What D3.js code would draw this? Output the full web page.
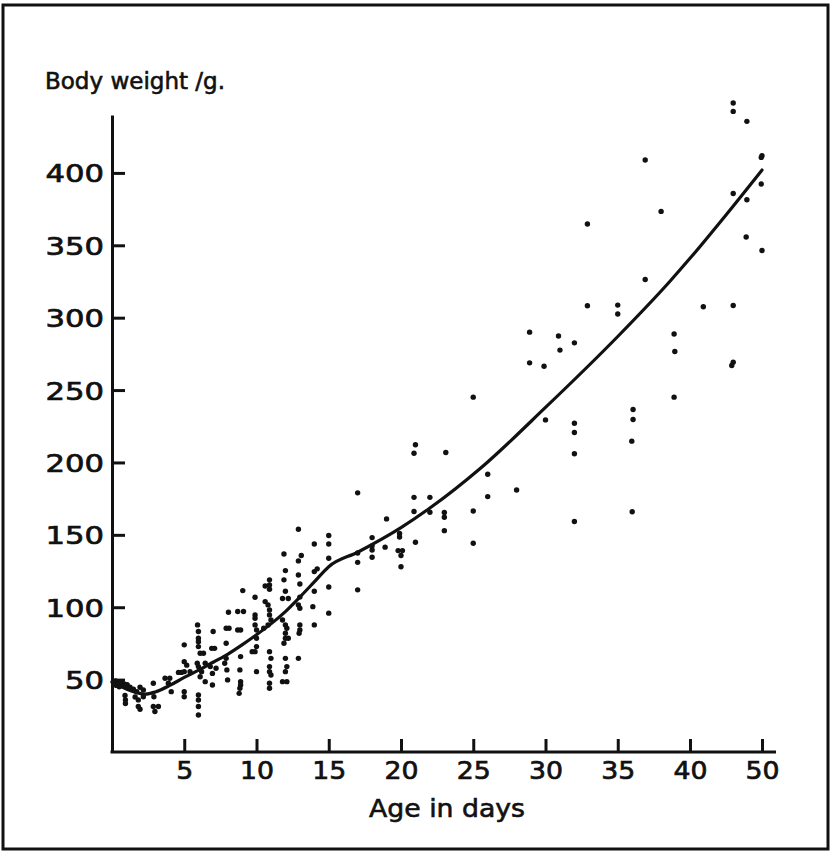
<!DOCTYPE html>
<html>
<head>
<meta charset="utf-8">
<script src="https://cdn.jsdelivr.net/npm/d3@7"></script>
<style>
  html, body { margin: 0; padding: 0; background: #fff; }
  svg { display: block; }
</style>
</head>
<body>
<script>
// Individual body weights (g) against age (days)
const observations = [
  [0.1,48],[0.25,49],[0.35,47],[0.45,48.5],[0.55,46.5],[0.65,48],[0.75,46],[0.85,47],[0.95,45],
  [0.5,45],[1.05,46.5],[0.3,46],[0.9,39],[0.93,36],[0.93,33.5],[1.25,44.7],[1.48,43.3],[1.71,41.7],
  [1.94,44.7],[1.82,36],[1.82,31.4],[1.94,29.5],[2.17,42.8],[2.17,38.2],[1.6,38],
  [2.86,47.5],[2.9,38.2],[2.86,31.4],[3.21,31.4],[2.97,28],
  [3.67,50.9],[4.0,50.9],[3.9,47.5],[4.1,41.7],
  [5.0,74],[5.0,62.4],[5.17,60],[5.0,55.5],[5.4,55.5],[4.6,55],[4.8,55],[5.0,41.7],[5.0,38.2],
  [5.92,87.8],[5.98,83.2],[5.98,78.6],[5.98,76.2],[5.98,72.8],[6.1,68.2],[5.9,61.3],[5.98,59],
  [6.2,55.5],[6.1,52],[5.98,39.4],[5.98,35.9],[5.98,31.4],[5.98,25.6],
  [6.33,68.2],[6.45,61.3],[6.45,48.6],[6.8,59],[6.9,71.6],[7.1,71.6],[7.0,83.2],[6.95,54.3],
  [7.2,57.8],[6.95,46.3],
  [7.9,85.5],[8.1,85.5],[7.9,75.1],[7.9,64.7],[7.95,56.7],[8.0,49.8],[7.8,61.3],[8.06,96.5],
  [8.7,97],[9.1,97],[8.7,84.3],[8.9,84.3],[8.9,65.9],[8.85,56.7],[8.9,48.6],[8.9,46.3],[8.85,44],
  [8.8,40.5],[9.05,111.5],
  [9.9,94.7],[9.9,92.4],[9.9,87.8],[10,84.3],[10,78.6],[10,72.8],[9.9,69.3],[9.7,69.3],[10,55.5],
  [9.9,106.9],
  [10.6,103.9],[10.8,101.6],[10.9,98.1],[10.9,94.7],[11.0,91.2],[10.8,87.8],[10.5,85.5],[10.9,69.3],
  [11.0,64.7],[10.9,59],[10.9,55.5],[10.9,47.5],[10.9,44],[11.0,53.2],[10.9,118.9],[10.9,115.4],
  [10.6,114.7],[10.9,112.4],
  [11.8,91.2],[12.0,87.8],[12.1,85.5],[12.0,82],[12.0,78.6],[12.2,78.6],[11.9,75.1],[12.0,64.7],
  [12.1,59],[12.0,55.5],[11.8,48.6],[12.1,48.6],[11.9,136.8],[12,125.3],[11.9,118.9],[12,111],
  [11.8,106],[12.2,106],
  [12.9,101.6],[13,99.3],[13,87.8],[13,84.3],[12.95,82],[12.9,64.7],[12.9,153.9],[13.1,135.7],
  [12.9,132],[12.9,122.3],[13,116],[13,107],
  [13.9,100.4],[14,87.8],[14,143.7],[14,124.6],[14.2,126.5],[14,111],
  [15,95.9],[15,149.5],[15,143.7],[15,133.8],[15,114],
  [17,179],[17,137.5],[17,131],[17,112],
  [18,148.1],[18,142.4],[18,139.5],[18,134.5],
  [19,161],[18.9,141.5],
  [19.9,151],[19.9,148.5],[19.8,139.1],[20.1,139.1],[20,135.7],[20,128],
  [21,212.2],[20.9,206.4],[20.9,175.9],[20.9,166.1],[21,144.9],
  [22,175.9],[22,165.6],
  [23.1,206.9],[23,165.4],[23,162.2],[23,152.9],
  [25,245.1],[25,166.5],[25,144.2],
  [26,191.9],[26,176.4],
  [28,181],
  [28.9,290],[28.9,268.8],
  [29.9,266.5],[30,229.4],
  [30.9,287.3],[31,277.6],
  [32,282.6],[32,227.1],[32,220.7],[32,206],[32,159.2],
  [32.9,364.7],[32.9,308.2],
  [35,308.7],[35,302.5],
  [36.06,236.6],[36.06,229.7],[35.97,214.7],[36,166],
  [36.9,408.9],[36.9,326.4],
  [38,373.4],
  [38.9,288.7],[38.95,276.6],[38.9,245.1],
  [41.85,307.5],
  [46,448.3],[46,442.5],[46,385.8],[46,308.4],[46,269.3],[45.8,267],
  [47.9,435.6],[47.9,381.5],[47.8,355.7],
  [50,411.9],[49.9,410.7],[49.9,392.3],[50,346.4]
];

// Fitted growth curve
const curveAge    = [0, 1, 2.3, 3, 4, 5, 6, 7, 8, 9, 10, 11, 12, 13, 14, 15, 17, 20, 22, 25.5, 30, 35, 38.6, 40, 45, 50];
const curveWeight = [48.5, 43.5, 40, 41.5, 46, 51.5, 56.5, 62, 67.5, 74, 81, 88.5, 97, 107, 117.5, 128, 138, 155, 168.5, 196, 238, 287, 325, 341, 371, 402];

// Axis ticks
const xTickValues = [5, 10, 15, 20, 25, 30, 35, 40, 50];
const yTickValues = [50, 100, 150, 200, 250, 300, 350, 400];

const width = 831, height = 853;
const FONT = "'DejaVu Sans', 'Liberation Sans', sans-serif";
const INK = "#111";

const svg = d3.select("body").append("svg")
  .attr("width", width)
  .attr("height", height);

svg.append("rect").attr("width", width).attr("height", height).attr("fill", "#fff");

// outer frame
svg.append("rect")
  .attr("x", 3).attr("y", 5)
  .attr("width", 825).attr("height", 844)
  .attr("fill", "none").attr("stroke", INK).attr("stroke-width", 3);

// The age axis is compressed beyond 40 days
const x = d3.scaleLinear().domain([0, 40, 50]).range([112, 690, 762]);
const y = d3.scaleLinear().domain([0, 440]).range([752, 115]);

// slightly heavier lettering
function ink(sel, w) {
  sel.attr("fill", INK).attr("stroke", INK).attr("stroke-width", w).attr("paint-order", "stroke");
}

// y axis
const yAxis = svg.append("g")
  .attr("transform", `translate(${x(0)},0)`)
  .call(d3.axisLeft(y).tickValues(yTickValues).tickSizeInner(-13).tickSizeOuter(0).tickPadding(8));
yAxis.select(".domain").attr("stroke", INK).attr("stroke-width", 3);
yAxis.selectAll(".tick line").attr("stroke", INK).attr("stroke-width", 3);
yAxis.selectAll(".tick text")
  .attr("font-family", FONT).attr("font-size", 25)
  .attr("dy", "0.36em")
  .attr("textLength", d => String(d).length * 19.5)
  .attr("lengthAdjust", "spacingAndGlyphs")
  .call(ink, 0.7);

// x axis
const xAxis = svg.append("g")
  .attr("transform", `translate(0,${y(0)})`)
  .call(d3.axisBottom(x).tickValues(xTickValues).tickSizeInner(-13).tickSizeOuter(0).tickPadding(9));
xAxis.select(".domain").remove();
xAxis.selectAll(".tick line").attr("stroke", INK).attr("stroke-width", 3);
xAxis.selectAll(".tick text")
  .attr("font-family", FONT).attr("font-size", 25)
  .attr("textLength", d => String(d).length * 17)
  .attr("lengthAdjust", "spacingAndGlyphs")
  .call(ink, 0.7);
xAxis.append("line")
  .attr("x1", x(0) - 1.5).attr("x2", 776)
  .attr("y1", 0).attr("y2", 0)
  .attr("stroke", INK).attr("stroke-width", 3);

// axis titles
svg.append("text")
  .attr("x", 45).attr("y", 89)
  .attr("font-family", FONT).attr("font-size", 23)
  .attr("textLength", 180).attr("lengthAdjust", "spacingAndGlyphs")
  .text("Body weight /g.")
  .call(ink, 0.6);

svg.append("text")
  .attr("x", 447).attr("y", 817)
  .attr("text-anchor", "middle")
  .attr("font-family", FONT).attr("font-size", 24)
  .attr("textLength", 156).attr("lengthAdjust", "spacingAndGlyphs")
  .text("Age  in  days")
  .call(ink, 0.6);

// observations
svg.append("g").selectAll("circle")
  .data(observations)
  .join("circle")
  .attr("cx", d => x(d[0]))
  .attr("cy", d => y(d[1]))
  .attr("r", 2.7)
  .attr("fill", INK);

// growth curve
const curvePts = curveAge.map((a, i) => [a, curveWeight[i]]);
svg.append("path")
  .datum(curvePts)
  .attr("fill", "none")
  .attr("stroke", INK)
  .attr("stroke-width", 3.2)
  .attr("stroke-linejoin", "round")
  .attr("stroke-linecap", "round")
  .attr("d", d3.line().x(d => x(d[0])).y(d => y(d[1])).curve(d3.curveMonotoneX));
</script>
</body>
</html>
